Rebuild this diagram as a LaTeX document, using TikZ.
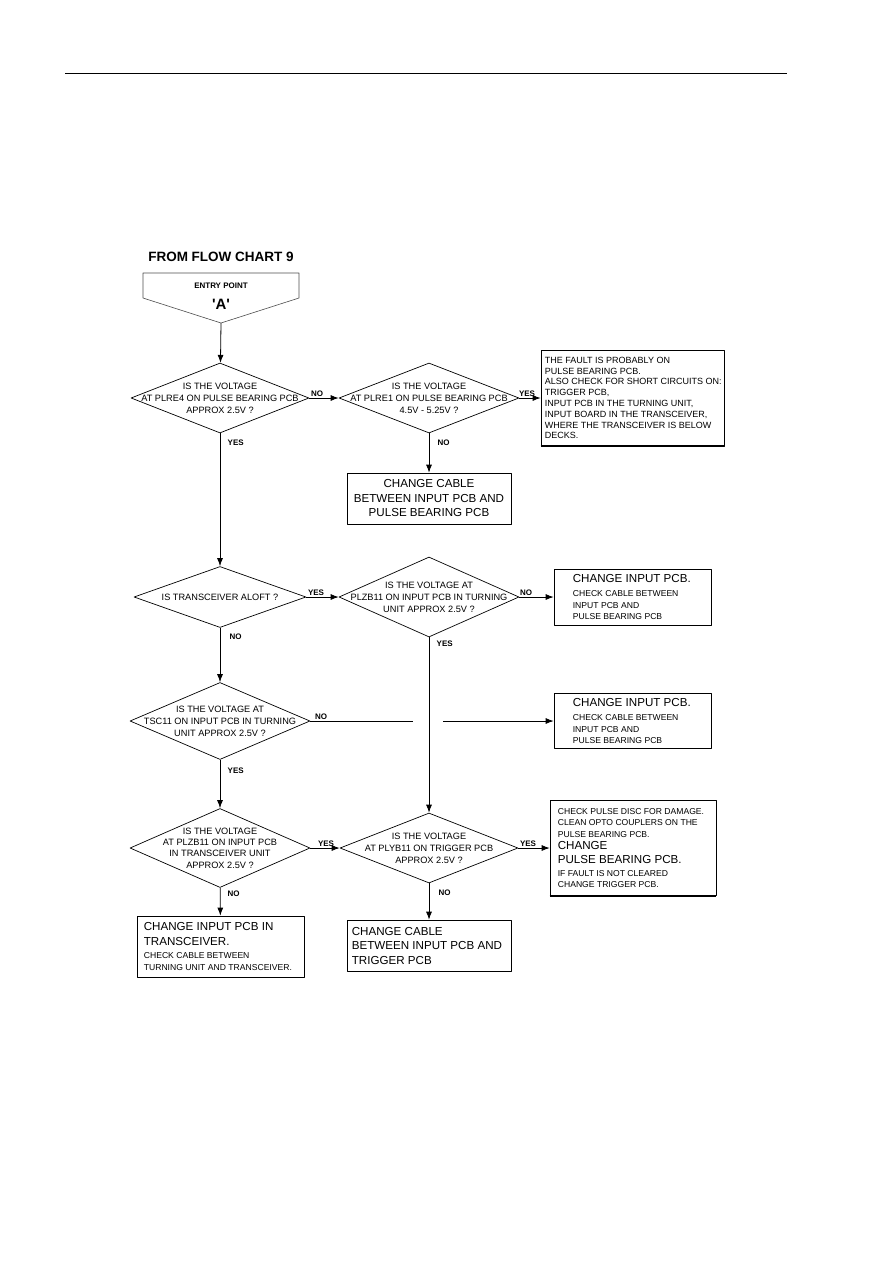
\documentclass[tikz,border=0pt]{standalone}
\usepackage{fontspec}
\setmainfont{Liberation Sans}
\usetikzlibrary{shapes.geometric,arrows.meta}
\newcommand\qfont{\fontsize{9.2}{12}\selectfont}
\newcommand\bigfont{\fontsize{11.6}{14.5}\selectfont}
\newcommand\smfont{\fontsize{8.6}{11.5}\selectfont}
\newcommand\notefont{\fontsize{9}{10.8}\selectfont}
\begin{document}
\begin{tikzpicture}[x=1pt,y=-1pt,line join=round,>={Latex[length=8pt,width=6pt]},
  decision/.style={draw,diamond,inner sep=0pt,line width=0.7pt},
  qtext/.style={align=center,font=\qfont,inner sep=0pt},
  box/.style={draw,rectangle,inner sep=0pt,line width=0.7pt},
  btext/.style={anchor=west,align=left,inner sep=0pt},
  ans/.style={font=\fontsize{8}{9}\bfseries\selectfont,inner sep=1.5pt},
  ansE/.style={ans,anchor=south west},
  ansS/.style={ans,anchor=north west},
  flow/.style={->,line width=0.8pt}]
\useasboundingbox (0,0) rectangle (893,1263);
\draw[line width=0.6pt] (65,73)--(787,73);
% entry point
\node[font=\fontsize{13.5}{16}\bfseries\selectfont] (title) at (221,257) {FROM FLOW CHART 9};
\draw[gray!60!black,line width=0.6pt] (143,273)--(299,273)--(299,298)--(221,323)--(143,298)--cycle;
\coordinate (entry) at (221,323);
\node[font=\fontsize{8}{9}\bfseries\selectfont] (entrytxt) at (221,286) {ENTRY POINT};
\node[font=\fontsize{15}{16}\bfseries\selectfont] (entryA) at (221,304) {\textquotesingle A\textquotesingle};
% decisions
\foreach \n/\x/\y/\w/\h in {d1/220/398/178/70,d2/429/398/180/70,d3/220/597/172/61,d4/429/597/180/80,
  d5/220/721/180/77,d6/220/848/180/79,d7/429/848/178/70}
  \node[decision,minimum width=\w,minimum height=\h] (\n) at (\x,\y) {};
\node[qtext] at (d1) {IS THE VOLTAGE\\AT PLRE4 ON PULSE BEARING PCB\\APPROX 2.5V ?};
\node[qtext] at (d2) {IS THE VOLTAGE\\AT PLRE1 ON PULSE BEARING PCB\\4.5V - 5.25V ?};
\node[qtext] at (d3) {IS TRANSCEIVER ALOFT ?};
\node[qtext] at (d4) {IS THE VOLTAGE AT\\PLZB11 ON INPUT PCB IN TURNING\\UNIT APPROX 2.5V ?};
\node[qtext] at (d5) {IS THE VOLTAGE AT\\TSC11 ON INPUT PCB IN TURNING\\UNIT APPROX 2.5V ?};
\node[qtext,font=\fontsize{9.2}{11.3}\selectfont] at (d6) {IS THE VOLTAGE\\AT PLZB11 ON INPUT PCB\\IN TRANSCEIVER UNIT\\APPROX 2.5V ?};
\node[qtext] at (d7) {IS THE VOLTAGE\\AT PLYB11 ON TRIGGER PCB\\APPROX 2.5V ?};
% boxes
\node[box,minimum width=183,minimum height=96] (b1) at (632.5,398) {};
\draw[line width=1.8pt] (b1.south west)--(b1.south east);
\node[box,minimum width=164,minimum height=51] (b2) at (429,498.5) {};
\node[box,minimum width=157,minimum height=56] (b3) at (632.5,597) {};
\node[box,minimum width=157,minimum height=55] (b4) at (632.5,721) {};
\node[box,minimum width=166,minimum height=95] (b5) at (633,848) {};
\draw[line width=1.8pt] (b5.south west)--(b5.south east);
\node[box,minimum width=167,minimum height=61] (b6) at (220.5,946.5) {};
\node[box,minimum width=164,minimum height=51] (b7) at (429,945.5) {};
\node[btext,font=\notefont] at ([xshift=4]b1.west) {THE FAULT IS PROBABLY ON\\PULSE BEARING PCB.\\ALSO CHECK FOR SHORT CIRCUITS ON:\\TRIGGER PCB,\\INPUT PCB IN THE TURNING UNIT,\\INPUT BOARD IN THE TRANSCEIVER,\\WHERE THE TRANSCEIVER IS BELOW\\DECKS.};
\node[align=center,font=\bigfont,inner sep=0pt] at (b2) {CHANGE CABLE\\BETWEEN INPUT PCB AND\\PULSE BEARING PCB};
\foreach \b in {b3,b4}
  \node[btext,font=\smfont] at ([xshift=19]\b.west) {{\bigfont CHANGE INPUT PCB.}\\[2.5pt]CHECK CABLE BETWEEN\\INPUT PCB AND\\PULSE BEARING PCB};
\node[btext,font=\smfont] at ([xshift=8]b5.west) {CHECK PULSE DISC FOR DAMAGE.\\CLEAN OPTO COUPLERS ON THE\\PULSE BEARING PCB.\\[0.5pt]{\bigfont CHANGE}\\[2.5pt]{\bigfont PULSE BEARING PCB.}\\[1.5pt]IF FAULT IS NOT CLEARED\\CHANGE TRIGGER PCB.};
\node[btext,font=\smfont] at ([xshift=7]b6.west) {{\bigfont CHANGE INPUT PCB IN}\\[3.5pt]{\bigfont TRANSCEIVER.}\\[1.5pt]CHECK CABLE BETWEEN\\TURNING UNIT AND TRANSCEIVER.};
\node[btext,font=\bigfont] at ([xshift=5]b7.west) {CHANGE CABLE\\BETWEEN INPUT PCB AND\\TRIGGER PCB};
% connectors
\draw[flow] (entry)--(d1);
\foreach \a/\b in {d1/d2,d2/b1,d2/b2,d1/d3,d3/d4,d4/b3,d3/d5,d4/d7,d5/d6,d6/d7,d7/b5,d6/b6,d7/b7}
  \draw[flow] (\a)--(\b);
\path (d4.south |- d5.east) ++(-16,0) coordinate (gapL) ++(30,0) coordinate (gapR);
\draw[line width=0.8pt] (d5.east)--(gapL);
\draw[flow] (gapR)--(b4);
% answers
\node[ansE] at ([xshift=0]d1.east) {NO};
\node[ansE] at ([xshift=-2]d2.east) {YES};
\node[ansE] at ([xshift=0]d3.east) {YES};
\node[ansE] at ([xshift=-1]d4.east) {NO};
\node[ansE] at ([xshift=3]d5.east) {NO};
\node[ansE] at ([xshift=6]d6.east) {YES};
\node[ansE] at ([xshift=0]d7.east) {YES};
\node[ansS] at ([shift={(6,5)}]d1.south) {YES};
\node[ansS] at ([shift={(7,5)}]d2.south) {NO};
\node[ansS] at ([shift={(8,4)}]d3.south) {NO};
\node[ansS] at ([shift={(6,2)}]d4.south) {YES};
\node[ansS] at ([shift={(6,6)}]d5.south) {YES};
\node[ansS] at ([shift={(6,1)}]d6.south) {NO};
\node[ansS] at ([shift={(8,5)}]d7.south) {NO};
\end{tikzpicture}
\end{document}
